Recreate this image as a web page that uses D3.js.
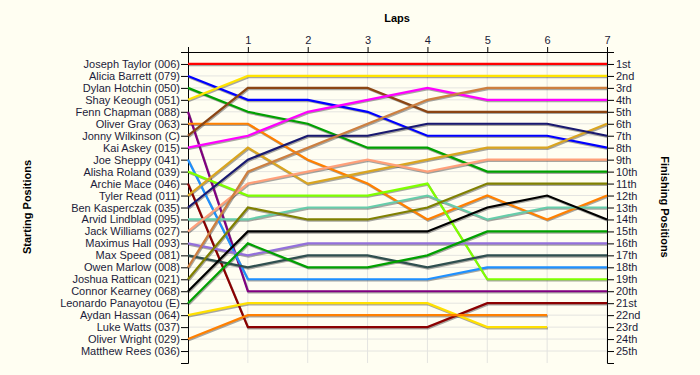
<!DOCTYPE html>
<html>
<head>
<meta charset="utf-8">
<script src="https://cdn.jsdelivr.net/npm/d3@7"></script>
<style>
  body { margin: 0; background: #fffef2; }
  svg { display: block; font-family: "Liberation Sans", Arial, sans-serif; }
  .axis text { font-size: 11px; fill: #1c1c3a; }
  .axis path, .axis line { stroke: #000; }
  .title { font-size: 11px; font-weight: bold; fill: #000; }
</style>
</head>
<body>
<svg id="chart" width="700" height="375"></svg>
<script>
// starting grid, in order
var drivers = [
  'Joseph Taylor (006)', 'Alicia Barrett (079)', 'Dylan Hotchin (050)', 'Shay Keough (051)',
  'Fenn Chapman (088)', 'Oliver Gray (063)', 'Jonny Wilkinson (C)', 'Kai Askey (015)',
  'Joe Sheppy (041)', 'Alisha Roland (039)', 'Archie Mace (046)', 'Tyler Read (011)',
  'Ben Kasperczak (035)', 'Arvid Lindblad (095)', 'Jack Williams (027)', 'Maximus Hall (093)',
  'Max Speed (081)', 'Owen Marlow (008)', 'Joshua Rattican (021)', 'Connor Kearney (068)',
  'Leonardo Panayotou (E)', 'Aydan Hassan (064)', 'Luke Watts (037)', 'Oliver Wright (029)',
  'Matthew Rees (036)'
];

var colors = [
  '#ff0000', '#0000ff', '#00a000', '#ffe400',
  '#800080', '#ff8000', '#8b4513', '#ff00ff',
  '#1e90ff', '#7fff00', '#8b0000', '#daa520',
  '#191970', '#66cdaa', '#ffa07a', '#9370db',
  '#2f4f4f', '#cd7f3f', '#808000', '#000000',
  '#00a000', '#ffe000', '#999999', '#ff8000',
  '#999999'
];

// position at lap 0 (start) .. last lap completed
var positions = [
  [1, 1, 1, 1, 1, 1, 1, 1],
  [2, 4, 4, 5, 7, 7, 7, 8],
  [3, 5, 6, 8, 8, 10, 10, 10],
  [4, 2, 2, 2, 2, 2, 2, 2],
  [5, 20, 20, 20, 20, 20, 20, 20],
  [6, 6, 9, 11, 14, 12, 14, 12],
  [7, 3, 3, 3, 5, 5, 5, 5],
  [8, 7, 5, 4, 3, 4, 4, 4],
  [9, 19, 19, 19, 19, 18, 18, 18],
  [10, 12, 12, 12, 11, 19, 19, 19],
  [11, 23, 23, 23, 23, 21, 21, 21],
  [12, 8, 11, 10, 9, 8, 8, 6],
  [13, 9, 7, 7, 6, 6, 6, 7],
  [14, 14, 13, 13, 12, 14, 13, 13],
  [15, 11, 10, 9, 10, 9, 9, 9],
  [16, 17, 16, 16, 16, 16, 16, 16],
  [17, 18, 17, 17, 18, 17, 17, 17],
  [18, 10, 8, 6, 4, 3, 3, 3],
  [19, 13, 14, 14, 13, 11, 11, 11],
  [20, 15, 15, 15, 15, 13, 12, 14],
  [21, 16, 18, 18, 17, 15, 15, 15],
  [22, 21, 21, 21, 21, 23, 23],
  [],
  [24, 22, 22, 22, 22, 22, 22],
  []
];

var laps = [1, 2, 3, 4, 5, 6, 7];
var finishLabels = ['1st', '2nd', '3rd', '4th', '5th', '6th', '7th', '8th', '9th', '10th',
  '11th', '12th', '13th', '14th', '15th', '16th', '17th', '18th', '19th', '20th',
  '21st', '22nd', '23rd', '24th', '25th'];

var svg = d3.select('#chart');

var x = d3.scaleLinear().domain([0, 7]).range([188, 607]);
var y = d3.scaleLinear().domain([0, 26]).range([52, 363]);
var slots = d3.range(1, 26);

// grid
var grid = svg.append('g');
grid.selectAll('line.h')
  .data(slots)
  .join('line')
  .attr('class', 'h')
  .attr('x1', x(0)).attr('x2', x(7))
  .attr('y1', function(d) { return y(d); })
  .attr('y2', function(d) { return y(d); })
  .attr('stroke', '#e4e4e0');
grid.selectAll('line.v')
  .data(laps)
  .join('line')
  .attr('class', 'v')
  .attr('x1', function(d) { return x(d); })
  .attr('x2', function(d) { return x(d); })
  .attr('y1', y(0)).attr('y2', y(26))
  .attr('stroke', '#e4e4e0');

// axes
svg.append('g')
  .attr('class', 'axis')
  .attr('transform', 'translate(' + x(0) + ',0)')
  .call(d3.axisLeft(y).tickValues(slots).tickSize(7)
    .tickFormat(function(d) { return drivers[d - 1]; }))
  .call(function(g) { g.selectAll('text').attr('x', -8); });

svg.append('g')
  .attr('class', 'axis')
  .attr('transform', 'translate(' + x(7) + ',0)')
  .call(d3.axisRight(y).tickValues(slots).tickSize(7)
    .tickFormat(function(d) { return finishLabels[d - 1]; }))
  .call(function(g) { g.selectAll('text').attr('x', 9); });

svg.append('g')
  .attr('class', 'axis')
  .attr('transform', 'translate(0,' + y(0) + ')')
  .call(d3.axisTop(x).tickValues(laps).tickSize(5).tickSizeOuter(5)
    .tickFormat(d3.format('d')));

// driver lines
var line = d3.line()
  .x(function(d, i) { return x(i); })
  .y(function(d) { return y(d); });

var runners = positions
  .map(function(p, i) { return { pos: p, color: colors[i] }; })
  .filter(function(d) { return d.pos.length > 1; });

svg.append('g')
  .attr('transform', 'translate(0.8,1.2)')
  .selectAll('path')
  .data(runners)
  .join('path')
  .attr('d', function(d) { return line(d.pos); })
  .attr('fill', 'none')
  .attr('stroke', 'rgba(60,60,60,0.45)')
  .attr('stroke-width', 2.2);

svg.append('g')
  .selectAll('path')
  .data(runners)
  .join('path')
  .attr('d', function(d) { return line(d.pos); })
  .attr('fill', 'none')
  .attr('stroke', function(d) { return d.color; })
  .attr('stroke-width', 2.2);

// titles
svg.append('text')
  .attr('class', 'title')
  .attr('x', 397).attr('y', 22)
  .attr('text-anchor', 'middle')
  .text('Laps');

svg.append('text')
  .attr('class', 'title')
  .attr('transform', 'translate(31,207) rotate(-90)')
  .attr('text-anchor', 'middle')
  .text('Starting Positions');

svg.append('text')
  .attr('class', 'title')
  .attr('transform', 'translate(661,207) rotate(90)')
  .attr('text-anchor', 'middle')
  .text('Finishing Positions');
</script>
</body>
</html>
